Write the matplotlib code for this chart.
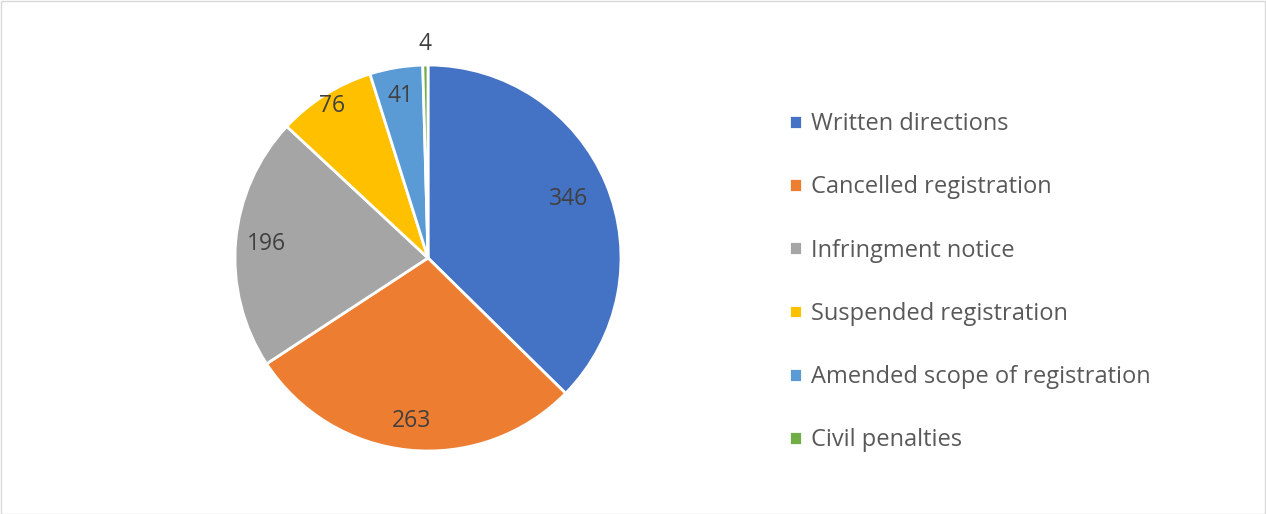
import matplotlib.pyplot as plt
from matplotlib.patches import Rectangle
import numpy as np

categories = ['Written directions', 'Cancelled registration', 'Infringment notice',
              'Suspended registration', 'Amended scope of registration', 'Civil penalties']
values = [346, 263, 196, 76, 41, 4]
colours = ['#4472C4', '#ED7D31', '#A5A5A5', '#FFC000', '#5B9BD5', '#70AD47']
label_dist = [0.79, 0.85, 0.84, 0.93, 0.85, 1.11]

plt.rcParams['font.family'] = ['Open Sans', 'DejaVu Sans']
text_col = '#595959'

fig = plt.figure(figsize=(12.66, 5.14), dpi=100)
W, H = 1266, 514
cx, cy, r = 428, 514 - 258, 193
ax = fig.add_axes([(cx - r) / W, (cy - r) / H, 2 * r / W, 2 * r / H])

wedges, _ = ax.pie(values, colors=colours, startangle=90, counterclock=False,
                   radius=1, wedgeprops=dict(edgecolor='white', linewidth=2))
ax.set_xlim(-1, 1)
ax.set_ylim(-1, 1)
ax.set_aspect('equal')

for w, v, d in zip(wedges, values, label_dist):
    ang = np.deg2rad((w.theta1 + w.theta2) / 2)
    ax.text(d * np.cos(ang), d * np.sin(ang), str(v), ha='center', va='center',
            fontsize=16.5, color='#404040')

fig.legend(wedges, categories, loc='upper left', bbox_to_anchor=(768 / W, 1 - 91 / H),
           frameon=False, fontsize=17, labelcolor=text_col, labelspacing=1.66,
           handlelength=0.52, handleheight=0.52, handletextpad=0.4)

fig.patches.append(Rectangle((0.5 / W, 0.5 / H), 1 - 1.5 / W, 1 - 1.5 / H,
                             transform=fig.transFigure, fill=False,
                             edgecolor='#D9D9D9', linewidth=1))

fig.savefig('out.png', dpi=100, facecolor='white')
